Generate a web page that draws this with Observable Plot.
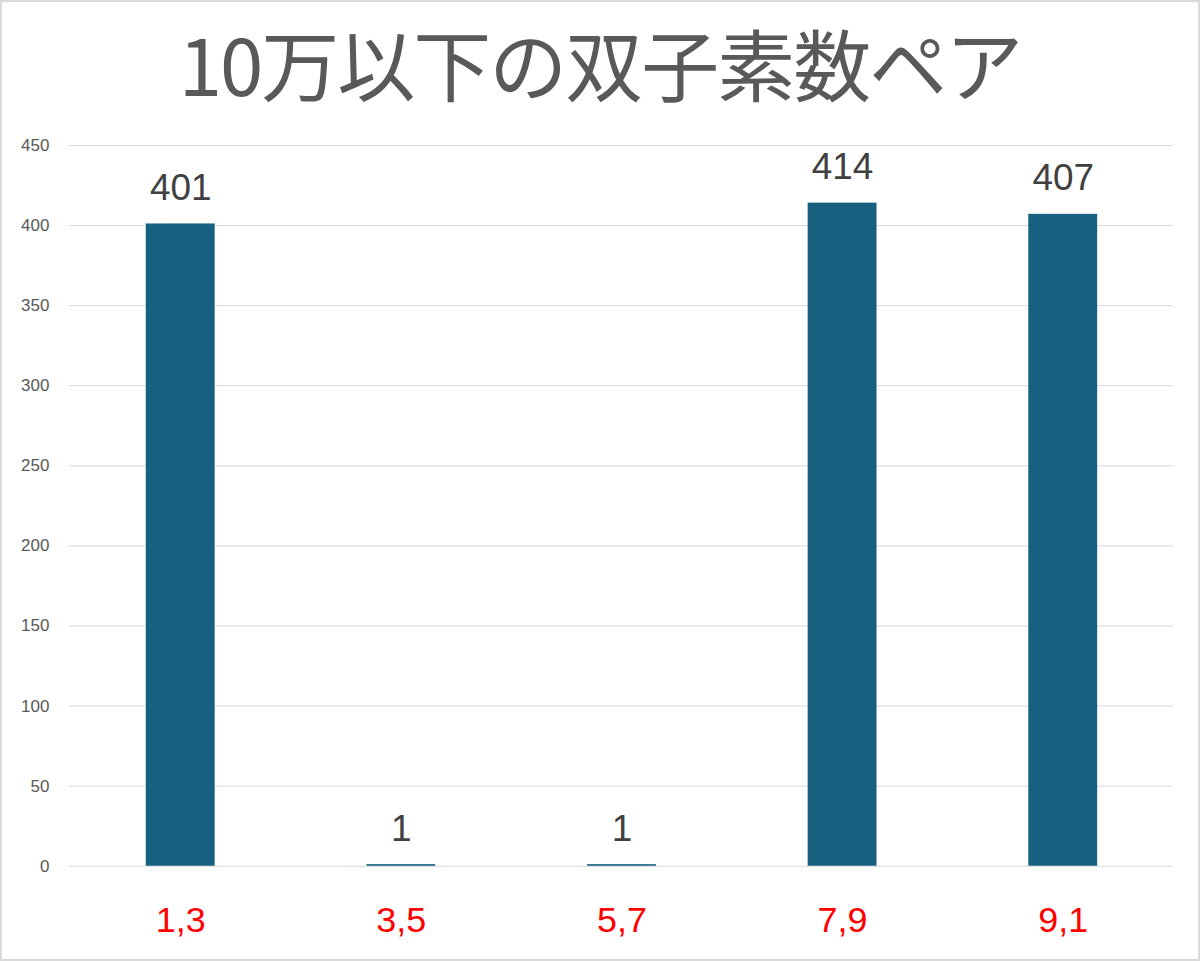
<!DOCTYPE HTML>
<html lang="ja">
  <head>
    <meta charset="UTF-8">
    <title>10万以下の双子素数ペア</title>
    <style>
      body {margin: 0; background: #fff;}
      #frame {position: relative; box-sizing: border-box; width: 1200px; height: 961px; border: 2px solid #d9d9d9; overflow: hidden;}
      #title {position: absolute; left: 0; top: 5px; width: 1196px; text-align: center; font-family: "Noto Sans CJK JP", sans-serif; font-size: 78px; letter-spacing: -2px; line-height: 110px; color: #595959;}
      #chart {position: absolute; left: -2px; top: 118px;}
    </style>
  </head>
  <body>
    <div id="frame">
      <div id="title">10万以下の双子素数ペア</div>
      <div id="chart"></div>
    </div>
    <script src="https://cdn.jsdelivr.net/npm/d3@7"></script>
    <script src="https://cdn.jsdelivr.net/npm/@observablehq/plot@0.6"></script>
    <script>
      // last digits of twin prime pairs below 100000
      const pairs = ['1,3', '3,5', '5,7', '7,9', '9,1'];
      const counts = [401, 1, 1, 414, 407];
      const yTicks = [0, 50, 100, 150, 200, 250, 300, 350, 400, 450];

      const data = pairs.map((pair, i) => ({pair, count: counts[i]}));

      const svg = Plot.plot({
        width: 1200,
        height: 841,
        marginTop: 25,
        marginBottom: 94,
        marginLeft: 69,
        marginRight: 25,
        style: {fontFamily: '"Liberation Sans", Arial, sans-serif', background: 'transparent'},
        x: {domain: pairs, paddingInner: 0.69, paddingOuter: 0.345, label: null},
        y: {domain: [0, 450], ticks: yTicks, label: null},
        marks: [
          Plot.gridY(yTicks, {stroke: '#d9d9d9', strokeOpacity: 1, strokeWidth: 1}),
          Plot.barY(data, {x: 'pair', y: 'count', fill: '#17607f'}),
          Plot.text(data, {
            x: 'pair', y: 'count', text: d => String(d.count),
            dy: -36, fontSize: 37, fill: '#404040'
          }),
          Plot.axisY(yTicks, {tickSize: 0, tickPadding: 20, fontSize: 17, color: '#595959', label: null}),
          Plot.axisX({tickSize: 0, tickPadding: 40, fontSize: 36, color: '#ff0000', label: null})
        ]
      });
      document.getElementById('chart').append(svg);
    </script>
  </body>
</html>
